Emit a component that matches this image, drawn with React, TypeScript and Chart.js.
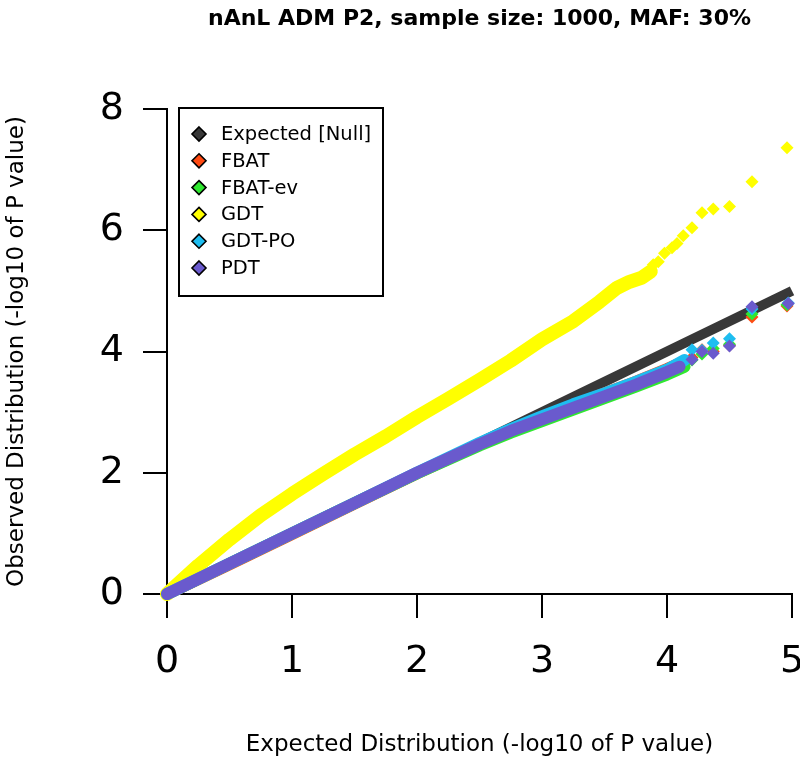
import React, { useEffect, useRef } from 'react';
import { Chart, registerables } from 'chart.js';

Chart.register(...registerables);

const TITLE = 'nAnL ADM P2, sample size: 1000, MAF: 30%';
const X_TITLE = 'Expected Distribution (-log10 of P value)';
const Y_TITLE = 'Observed Distribution (-log10 of P value)';

const seriesNames = ['Expected [Null]', 'FBAT', 'FBAT-ev', 'GDT', 'GDT-PO', 'PDT'];
const seriesColors = ['#383838', '#ff4a12', '#30e830', '#ffff00', '#1ebdf0', '#6a5acd'];

// Expected [Null]
const expectedX = [0, 5];
const expectedY = [0, 5];
const expectedDense = 2;

// FBAT
const fbatX = [0, 0.5, 1, 1.5, 2, 2.5, 2.75, 3, 3.25, 3.5, 3.75, 4.0, 4.12, 4.2, 4.28, 4.37, 4.5, 4.68, 4.96];
const fbatY = [0, 0.49, 0.99, 1.49, 1.99, 2.47, 2.69, 2.9, 3.1, 3.31, 3.5, 3.71, 3.82, 3.9, 4.03, 4.0, 4.1, 4.57, 4.75];
const fbatDense = 13;

// FBAT-ev
const fbatEvX = [0, 0.5, 1, 1.5, 2, 2.5, 2.75, 3, 3.25, 3.5, 3.75, 4.0, 4.14, 4.2, 4.28, 4.37, 4.5, 4.68, 4.96];
const fbatEvY = [0, 0.5, 1, 1.5, 1.99, 2.45, 2.66, 2.85, 3.04, 3.23, 3.42, 3.62, 3.75, 3.86, 3.96, 4.05, 4.12, 4.62, 4.77];
const fbatEvDense = 13;

// GDT
const gdtX = [0, 0.25, 0.5, 0.75, 1, 1.25, 1.5, 1.75, 2, 2.25, 2.5, 2.75, 3, 3.25, 3.46, 3.6, 3.7, 3.8, 3.87,
  3.89, 3.93, 3.98, 4.04, 4.08, 4.13, 4.2, 4.28, 4.37, 4.5, 4.68, 4.96];
const gdtY = [0, 0.47, 0.9, 1.3, 1.65, 1.98, 2.3, 2.6, 2.92, 3.22, 3.53, 3.85, 4.2, 4.5, 4.82, 5.05, 5.15, 5.22, 5.32,
  5.43, 5.48, 5.62, 5.71, 5.78, 5.91, 6.04, 6.29, 6.35, 6.39, 6.8, 7.36];
const gdtDense = 19;

// GDT-PO
const gdtPoX = [0, 0.5, 1, 1.5, 2, 2.5, 2.75, 3, 3.25, 3.5, 3.75, 4.0, 4.14, 4.2, 4.28, 4.37, 4.5, 4.68, 4.97];
const gdtPoY = [0, 0.5, 1, 1.5, 2, 2.49, 2.72, 2.93, 3.13, 3.31, 3.5, 3.7, 3.86, 4.03, 4.02, 4.14, 4.21, 4.7, 4.8];
const gdtPoDense = 13;

// PDT
const pdtX = [0, 0.5, 1, 1.5, 2, 2.5, 2.75, 3, 3.25, 3.5, 3.75, 4.0, 4.1, 4.2, 4.28, 4.37, 4.5, 4.68, 4.97];
const pdtY = [0, 0.5, 1, 1.5, 2, 2.47, 2.69, 2.88, 3.07, 3.26, 3.45, 3.66, 3.75, 3.87, 4.0, 3.97, 4.09, 4.74, 4.79];
const pdtDense = 13;

const xTickValues = [0, 1, 2, 3, 4, 5];
const yTickValues = [0, 2, 4, 6, 8];

const seriesX = [expectedX, fbatX, fbatEvX, gdtX, gdtPoX, pdtX];
const seriesY = [expectedY, fbatY, fbatEvY, gdtY, gdtPoY, pdtY];
const seriesDense = [expectedDense, fbatDense, fbatEvDense, gdtDense, gdtPoDense, pdtDense];
const bandWidths = [10, 12, 12, 14, 12, 12];

const FONT = '"DejaVu Sans", Verdana, sans-serif';

const boxLegend = {
  id: 'boxLegend',
  afterDatasetsDraw(chart: any) {
    const ctx = chart.ctx;
    ctx.save();
    const bx = 179, by = 108, bw = 204, bh = 188;
    ctx.fillStyle = '#ffffff';
    ctx.fillRect(bx, by, bw, bh);
    ctx.lineWidth = 2;
    ctx.strokeStyle = '#000';
    ctx.strokeRect(bx, by, bw, bh);
    ctx.font = '19.5px ' + FONT;
    ctx.textBaseline = 'middle';
    ctx.textAlign = 'left';
    seriesNames.forEach((name, i) => {
      const y = 134 + i * 26.8;
      const cx = 199, r = 7;
      ctx.beginPath();
      ctx.moveTo(cx, y - r);
      ctx.lineTo(cx + r, y);
      ctx.lineTo(cx, y + r);
      ctx.lineTo(cx - r, y);
      ctx.closePath();
      ctx.fillStyle = seriesColors[i];
      ctx.fill();
      ctx.lineWidth = 1.6;
      ctx.strokeStyle = '#000';
      ctx.stroke();
      ctx.fillStyle = '#000';
      ctx.fillText(name, 221, y + 1);
    });
    ctx.restore();
  },
};

export default function App() {
  const ref = useRef<HTMLCanvasElement | null>(null);

  useEffect(() => {
    if (!ref.current) return;
    const datasets = seriesNames.map((name, i) => {
      const dense = seriesDense[i];
      return {
        label: name,
        data: seriesX[i].map((x, k) => ({ x, y: seriesY[i][k] })),
        showLine: true,
        borderColor: seriesColors[i],
        backgroundColor: seriesColors[i],
        borderWidth: bandWidths[i],
        borderCapStyle: i === 0 ? 'butt' : 'round',
        borderJoinStyle: 'round',
        pointStyle: 'rectRot',
        pointRadius: (c: any) => (c.dataIndex >= dense ? 6.5 : 0),
        pointBorderWidth: 0,
        pointHoverRadius: 0,
        segment: {
          borderColor: (c: any) => (c.p1DataIndex >= dense ? 'transparent' : undefined),
        },
        order: seriesNames.length - 1 - i,
        clip: false,
      };
    });

    const chart = new Chart(ref.current, {
      type: 'scatter',
      data: { datasets } as any,
      options: {
        animation: false,
        responsive: false,
        devicePixelRatio: 1,
        events: [],
        layout: { padding: { left: 0, right: 8, top: 0, bottom: 0 } },
        plugins: {
          legend: { display: false },
          tooltip: { enabled: false },
          title: {
            display: true,
            text: TITLE,
            fullSize: false,
            color: '#000',
            font: { family: FONT, size: 22, weight: 'bold' },
            padding: { top: 6, bottom: 76.6 },
          },
        },
        scales: {
          x: {
            type: 'linear',
            min: 0,
            max: 5,
            afterBuildTicks: (s: any) => {
              s.ticks = xTickValues.map((v) => ({ value: v }));
            },
            afterFit: (s: any) => {
              s.height = 182;
              s.paddingRight = 8;
              s.paddingLeft = 0;
            },
            ticks: { color: '#000', font: { family: FONT, size: 38 }, padding: 21 },
            grid: { drawOnChartArea: false, drawTicks: true, tickLength: 24, color: '#000', lineWidth: 2 },
            border: { display: true, color: '#000', width: 2 },
            title: {
              display: true,
              text: X_TITLE,
              color: '#000',
              font: { family: FONT, size: 23 },
              padding: { top: 0, bottom: 17 },
            },
          },
          y: {
            type: 'linear',
            min: 0,
            max: 8,
            afterBuildTicks: (s: any) => {
              s.ticks = yTickValues.map((v) => ({ value: v }));
            },
            afterFit: (s: any) => {
              s.width = 167;
            },
            ticks: { color: '#000', font: { family: FONT, size: 38 }, padding: 19 },
            grid: { drawOnChartArea: false, drawTicks: true, tickLength: 24, color: '#000', lineWidth: 2 },
            border: { display: true, color: '#000', width: 2 },
            title: {
              display: true,
              text: Y_TITLE,
              color: '#000',
              font: { family: FONT, size: 23 },
              padding: { top: 3, bottom: 0 },
            },
          },
        },
      } as any,
      plugins: [boxLegend],
    });
    return () => chart.destroy();
  }, []);

  return (
    <div style={{ position: 'fixed', left: 0, top: 0, width: 800, height: 776, background: '#fff' }}>
      <canvas ref={ref} width={800} height={776} style={{ width: 800, height: 776, display: 'block' }} />
    </div>
  );
}
